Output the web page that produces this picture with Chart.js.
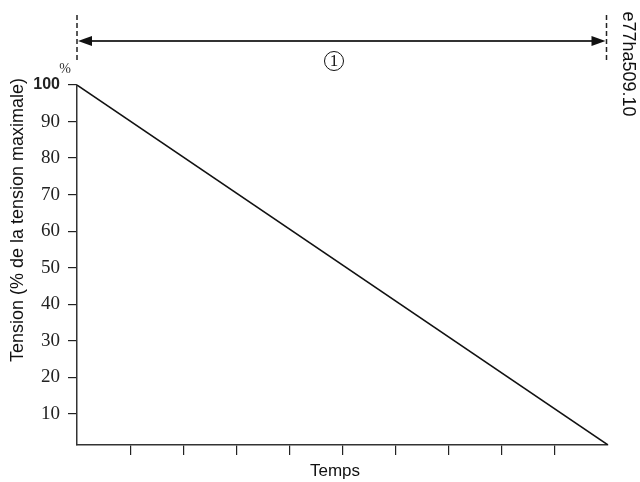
<!DOCTYPE html>
<html><head><meta charset="utf-8">
<script src="https://cdn.jsdelivr.net/npm/chart.js@4.4.0/dist/chart.umd.min.js"></script>
<style>html,body{margin:0;padding:0;background:#fff}#wrap{width:640px;height:482px;position:relative}</style>
</head><body><div id="wrap"><canvas id="c" width="640" height="482"></canvas></div>
<script>
const timeValues = [0, 10];
const voltageValues = [100, 1.5];
const yTickValues = [10, 20, 30, 40, 50, 60, 70, 80, 90, 100];
const xTickValues = [1, 2, 3, 4, 5, 6, 7, 8, 9];
const yTitle = 'Tension (% de la tension maximale)';
const xTitle = 'Temps';
const unitLabel = '%';
const figureId = 'e77ha509.10';
const spanLabel = '1';

const ink = '#222';
const annot = {
  id: 'annot',
  afterDraw(chart) {
    const ctx = chart.ctx;
    const xs = chart.scales.x;
    const x0 = xs.getPixelForValue(timeValues[0]);
    const x1 = xs.getPixelForValue(timeValues[timeValues.length - 1]) - 1.5;
    ctx.save();
    ctx.strokeStyle = ink; ctx.lineWidth = 1.5; ctx.setLineDash([5, 3]);
    [x0, x1].forEach(x => { ctx.beginPath(); ctx.moveTo(x, 15); ctx.lineTo(x, 63); ctx.stroke(); });
    ctx.setLineDash([]);
    const ay = 41;
    ctx.lineWidth = 2; ctx.strokeStyle = '#333';
    ctx.beginPath(); ctx.moveTo(x0 + 8, ay); ctx.lineTo(x1 - 8, ay); ctx.stroke();
    ctx.fillStyle = '#111';
    ctx.beginPath(); ctx.moveTo(x0 + 1, ay); ctx.lineTo(x0 + 15, ay - 5); ctx.lineTo(x0 + 15, ay + 5); ctx.closePath(); ctx.fill();
    ctx.beginPath(); ctx.moveTo(x1 - 1, ay); ctx.lineTo(x1 - 15, ay - 5); ctx.lineTo(x1 - 15, ay + 5); ctx.closePath(); ctx.fill();
    const cx = 334, cy = 61;
    ctx.lineWidth = 1; ctx.strokeStyle = '#111';
    ctx.beginPath(); ctx.arc(cx, cy, 9.5, 0, Math.PI * 2); ctx.stroke();
    ctx.fillStyle = '#111'; ctx.font = '17px "Liberation Serif"'; ctx.textAlign = 'center'; ctx.textBaseline = 'middle';
    ctx.fillText(spanLabel, cx, cy + 1);
    ctx.font = '14px "Liberation Serif"'; ctx.fillStyle = '#333';
    ctx.fillText(unitLabel, 65, 69);
    ctx.fillStyle = '#111';
    ctx.font = '17px "Liberation Sans"';
    ctx.fillText(xTitle, 335, 471);
    ctx.save();
    ctx.translate(18, 220); ctx.rotate(-Math.PI / 2);
    ctx.font = '18px "Liberation Sans"';
    ctx.fillText(yTitle, 0, 0);
    ctx.restore();
    ctx.translate(628, 64); ctx.rotate(Math.PI / 2);
    ctx.font = '18px "Liberation Sans"'; ctx.fillStyle = '#111';
    ctx.fillText(figureId, 0, 0);
    ctx.restore();
  }
};

new Chart(document.getElementById('c'), {
  type: 'line',
  data: {
    datasets: [{
      data: timeValues.map((t, i) => ({ x: t, y: voltageValues[i] })),
      borderColor: '#111', borderWidth: 1.5, pointRadius: 0, tension: 0, fill: false
    }]
  },
  options: {
    responsive: false, animation: false, devicePixelRatio: 1,
    layout: { padding: { left: 0, right: 32, top: 85, bottom: 0 } },
    plugins: { legend: { display: false }, tooltip: { enabled: false } },
    scales: {
      x: {
        type: 'linear', min: timeValues[0], max: timeValues[timeValues.length - 1],
        afterBuildTicks: s => { s.ticks = xTickValues.map(v => ({ value: v })); },
        afterFit: s => { s.height = 37; },
        ticks: { callback: () => '', padding: 0 },
        grid: { drawOnChartArea: false, tickLength: 10, color: ink, lineWidth: 1.2 },
        border: { color: '#333', width: 1.5 },
        title: { display: false, text: xTitle }
      },
      y: {
        min: 1.5, max: 100,
        afterBuildTicks: s => { s.ticks = yTickValues.map(v => ({ value: v })); },
        afterFit: s => { s.width = 77; },
        ticks: {
          padding: 8, color: '#222',
          font: ctx => ctx.tick && ctx.tick.value === 100
            ? { family: 'Liberation Sans', size: 16, weight: 'bold' }
            : { family: 'Liberation Serif', size: 19 }
        },
        grid: { drawOnChartArea: false, tickLength: 9, color: ink, lineWidth: 1.2 },
        border: { color: '#333', width: 1.5 },
        title: { display: false, text: yTitle }
      }
    }
  },
  plugins: [annot]
});
</script></body></html>
